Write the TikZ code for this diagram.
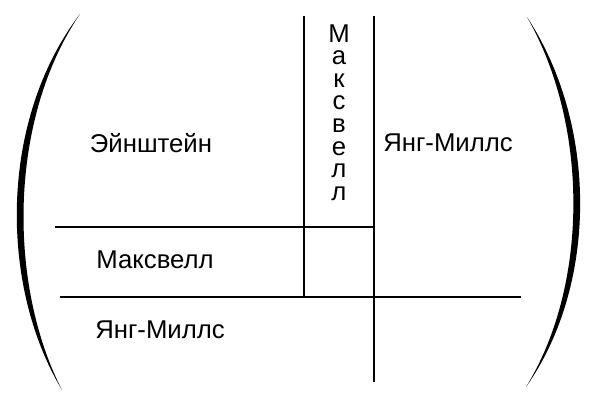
\documentclass[tikz,border=0pt]{standalone}
\usepackage{fontspec}
\setmainfont{Liberation Sans}
\begin{document}
\begin{tikzpicture}[x=0.75pt,y=-0.75pt,
  grid/.style={line width=1.6pt,black},
  lbl/.style={font=\fontsize{19.3}{22}\selectfont,inner sep=0pt},
  vtext/.style={font=\fontsize{19.3}{16.9}\selectfont,inner sep=0pt,align=center}]
\useasboundingbox (0,0) rectangle (600,403);
% grid coordinates
\coordinate (v1t) at (304,16);
\coordinate (v1b) at (304,297);
\coordinate (v2t) at (374,16);
\coordinate (v2b) at (374,382);
\coordinate (h1l) at (55,227);
\coordinate (h1r) at (374,227);
\coordinate (h2l) at (60,297);
\coordinate (h2r) at (521,297);
\draw[grid] (v1t) -- (v1b);
\draw[grid] (v2t) -- (v2b);
\draw[grid] (h1l) -- (h1r);
\draw[grid] (h2l) -- (h2r);
% parentheses
\fill (80,14) .. controls (-1,120) and (-1,285) .. (62,390)
      .. controls (8,285) and (8,120) .. (80,14) -- cycle;
\fill (527,17) .. controls (598,125) and (598,285) .. (526,387)
      .. controls (589,285) and (589,125) .. (527,17) -- cycle;
% labels
\node[lbl] (ein) at (151,143) {Эйнштейн};
\node[lbl] (ym1) at (448,143) {Янг-Миллс};
\node[lbl] (mx1) at (155,260) {Максвелл};
\node[lbl] (ym2) at (160,330) {Янг-Миллс};
\node[vtext] (mxv) at (339,112.5) {М\\а\\к\\с\\в\\е\\л\\л};
\end{tikzpicture}
\end{document}
